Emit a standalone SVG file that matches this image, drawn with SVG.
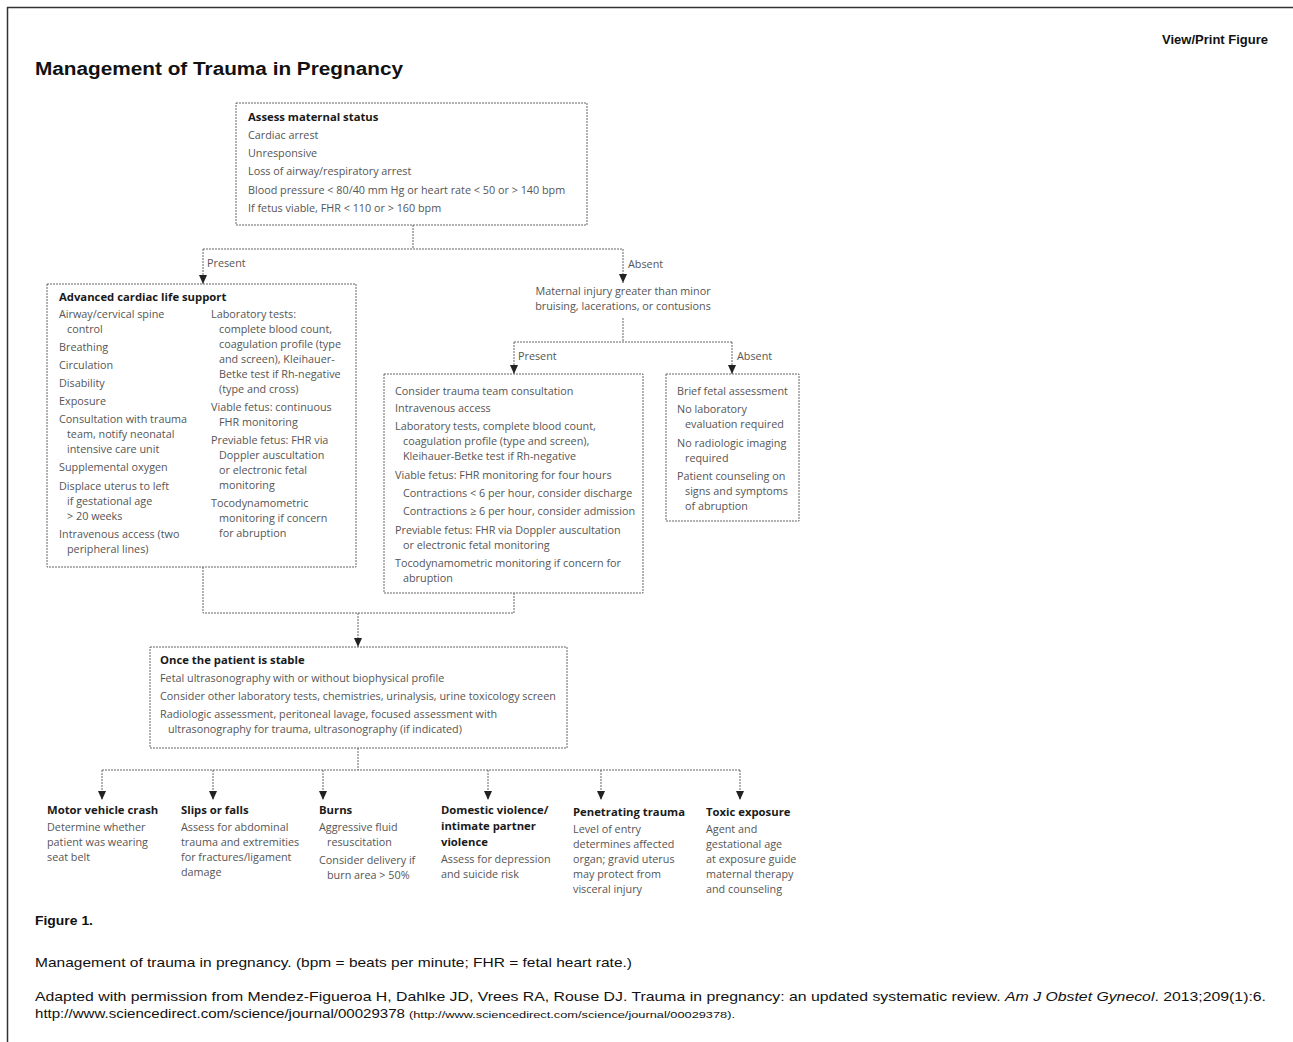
<svg xmlns="http://www.w3.org/2000/svg" width="1293" height="1042" viewBox="0 0 1293 1042">
<defs>
<marker id="ah" viewBox="0 0 9 8" refX="9" refY="4" markerWidth="9" markerHeight="8" markerUnits="userSpaceOnUse" orient="auto">
<path d="M0,0 L9,4 L0,8 Z" fill="#222"/>
</marker>
<style>
.box{fill:#fff;stroke:#666;stroke-width:1;stroke-dasharray:2 1}
.ln{fill:none;stroke:#666;stroke-width:1;stroke-dasharray:2 1}
.t{font-family:"Open Sans","Liberation Sans",sans-serif;font-size:10.8px;fill:#555}
.h{font-family:"Open Sans","Liberation Sans",sans-serif;font-size:11.3px;font-weight:bold;fill:#1a1a1a}
.c{font-family:"Liberation Sans",Arial,sans-serif;fill:#111}
</style>
</defs>
<rect width="1293" height="1042" fill="#fff"/>
<g id="frame">
<line x1="7" y1="7.5" x2="1293" y2="7.5" stroke="#333" stroke-width="1.5"/>
<line x1="7.5" y1="7" x2="7.5" y2="1042" stroke="#333" stroke-width="1.5"/>
</g>
<g id="header">
<text class="c" x="1268" y="44" font-size="13" font-weight="bold" text-anchor="end">View/Print Figure</text>
<text class="c" x="35" y="75" font-size="18" font-weight="bold" textLength="368" lengthAdjust="spacingAndGlyphs">Management of Trauma in Pregnancy</text>
</g>
<g id="connectors">
<line class="ln" x1="413" y1="225" x2="413" y2="249"/>
<line class="ln" x1="203" y1="249" x2="623" y2="249"/>
<line class="ln" x1="203" y1="249" x2="203" y2="284" marker-end="url(#ah)"/>
<line class="ln" x1="623" y1="249" x2="623" y2="283" marker-end="url(#ah)"/>
<line class="ln" x1="623" y1="318" x2="623" y2="342"/>
<line class="ln" x1="514" y1="342" x2="732" y2="342"/>
<line class="ln" x1="514" y1="342" x2="514" y2="374" marker-end="url(#ah)"/>
<line class="ln" x1="732" y1="342" x2="732" y2="374" marker-end="url(#ah)"/>
<polyline class="ln" points="203,567 203,613 514,613 514,593"/>
<line class="ln" x1="358" y1="613" x2="358" y2="647" marker-end="url(#ah)"/>
<line class="ln" x1="358" y1="748" x2="358" y2="770"/>
<line class="ln" x1="102" y1="770" x2="740" y2="770"/>
<line class="ln" x1="102" y1="770" x2="102" y2="800" marker-end="url(#ah)"/>
<line class="ln" x1="213" y1="770" x2="213" y2="800" marker-end="url(#ah)"/>
<line class="ln" x1="323" y1="770" x2="323" y2="800" marker-end="url(#ah)"/>
<line class="ln" x1="488" y1="770" x2="488" y2="800" marker-end="url(#ah)"/>
<line class="ln" x1="601" y1="770" x2="601" y2="800" marker-end="url(#ah)"/>
<line class="ln" x1="740" y1="770" x2="740" y2="800" marker-end="url(#ah)"/>
<text class="t" x="207" y="267">Present</text>
<text class="t" x="628" y="268">Absent</text>
<text class="t" x="518" y="360">Present</text>
<text class="t" x="737" y="360">Absent</text>
</g>
<g id="assess">
<rect class="box" x="236" y="103" width="351" height="122"/>
<text class="h" x="248" y="121">Assess maternal status</text>
<text class="t" x="248" y="139">Cardiac arrest</text>
<text class="t" x="248" y="157">Unresponsive</text>
<text class="t" x="248" y="175">Loss of airway/respiratory arrest</text>
<text class="t" x="248" y="194">Blood pressure &lt; 80/40 mm Hg or heart rate &lt; 50 or &gt; 140 bpm</text>
<text class="t" x="248" y="212">If fetus viable, FHR &lt; 110 or &gt; 160 bpm</text>
</g>
<g id="acls">
<rect class="box" x="47" y="284" width="309" height="283"/>
<text class="h" x="59" y="301">Advanced cardiac life support</text>
<text class="t" x="59" y="318">Airway/cervical spine</text>
<text class="t" x="67" y="333">control</text>
<text class="t" x="59" y="351">Breathing</text>
<text class="t" x="59" y="369">Circulation</text>
<text class="t" x="59" y="387">Disability</text>
<text class="t" x="59" y="405">Exposure</text>
<text class="t" x="59" y="423">Consultation with trauma</text>
<text class="t" x="67" y="438">team, notify neonatal</text>
<text class="t" x="67" y="453">intensive care unit</text>
<text class="t" x="59" y="471">Supplemental oxygen</text>
<text class="t" x="59" y="490">Displace uterus to left</text>
<text class="t" x="67" y="505">if gestational age</text>
<text class="t" x="67" y="520">&gt; 20 weeks</text>
<text class="t" x="59" y="538">Intravenous access (two</text>
<text class="t" x="67" y="553">peripheral lines)</text>
<text class="t" x="211" y="318">Laboratory tests:</text>
<text class="t" x="219" y="333">complete blood count,</text>
<text class="t" x="219" y="348">coagulation profile (type</text>
<text class="t" x="219" y="363">and screen), Kleihauer-</text>
<text class="t" x="219" y="378">Betke test if Rh-negative</text>
<text class="t" x="219" y="393">(type and cross)</text>
<text class="t" x="211" y="411">Viable fetus: continuous</text>
<text class="t" x="219" y="426">FHR monitoring</text>
<text class="t" x="211" y="444">Previable fetus: FHR via</text>
<text class="t" x="219" y="459">Doppler auscultation</text>
<text class="t" x="219" y="474">or electronic fetal</text>
<text class="t" x="219" y="489">monitoring</text>
<text class="t" x="211" y="507">Tocodynamometric</text>
<text class="t" x="219" y="522">monitoring if concern</text>
<text class="t" x="219" y="537">for abruption</text>
</g>
<g id="maternal-injury">
<text class="t" x="623" y="295" text-anchor="middle">Maternal injury greater than minor</text>
<text class="t" x="623" y="310" text-anchor="middle">bruising, lacerations, or contusions</text>
</g>
<g id="injury-present">
<rect class="box" x="384" y="374" width="259" height="219"/>
<text class="t" x="395" y="395">Consider trauma team consultation</text>
<text class="t" x="395" y="412">Intravenous access</text>
<text class="t" x="395" y="430">Laboratory tests, complete blood count,</text>
<text class="t" x="403" y="445">coagulation profile (type and screen),</text>
<text class="t" x="403" y="460">Kleihauer-Betke test if Rh-negative</text>
<text class="t" x="395" y="479">Viable fetus: FHR monitoring for four hours</text>
<text class="t" x="403" y="497">Contractions &lt; 6 per hour, consider discharge</text>
<text class="t" x="403" y="515">Contractions ≥ 6 per hour, consider admission</text>
<text class="t" x="395" y="534">Previable fetus: FHR via Doppler auscultation</text>
<text class="t" x="403" y="549">or electronic fetal monitoring</text>
<text class="t" x="395" y="567">Tocodynamometric monitoring if concern for</text>
<text class="t" x="403" y="582">abruption</text>
</g>
<g id="injury-absent">
<rect class="box" x="666" y="374" width="133" height="147"/>
<text class="t" x="677" y="395">Brief fetal assessment</text>
<text class="t" x="677" y="413">No laboratory</text>
<text class="t" x="685" y="428">evaluation required</text>
<text class="t" x="677" y="447">No radiologic imaging</text>
<text class="t" x="685" y="462">required</text>
<text class="t" x="677" y="480">Patient counseling on</text>
<text class="t" x="685" y="495">signs and symptoms</text>
<text class="t" x="685" y="510">of abruption</text>
</g>
<g id="stable">
<rect class="box" x="150" y="647" width="417" height="101"/>
<text class="h" x="160" y="664">Once the patient is stable</text>
<text class="t" x="160" y="682">Fetal ultrasonography with or without biophysical profile</text>
<text class="t" x="160" y="700">Consider other laboratory tests, chemistries, urinalysis, urine toxicology screen</text>
<text class="t" x="160" y="718">Radiologic assessment, peritoneal lavage, focused assessment with</text>
<text class="t" x="168" y="733">ultrasonography for trauma, ultrasonography (if indicated)</text>
</g>
<g id="motor-vehicle">
<text class="h" x="47" y="814">Motor vehicle crash</text>
<text class="t" x="47" y="831">Determine whether</text>
<text class="t" x="47" y="846">patient was wearing</text>
<text class="t" x="47" y="861">seat belt</text>
</g>
<g id="slips-falls">
<text class="h" x="181" y="814">Slips or falls</text>
<text class="t" x="181" y="831">Assess for abdominal</text>
<text class="t" x="181" y="846">trauma and extremities</text>
<text class="t" x="181" y="861">for fractures/ligament</text>
<text class="t" x="181" y="876">damage</text>
</g>
<g id="burns">
<text class="h" x="319" y="814">Burns</text>
<text class="t" x="319" y="831">Aggressive fluid</text>
<text class="t" x="327" y="846">resuscitation</text>
<text class="t" x="319" y="864">Consider delivery if</text>
<text class="t" x="327" y="879">burn area &gt; 50%</text>
</g>
<g id="domestic-violence">
<text class="h" x="441" y="814">Domestic violence/</text>
<text class="h" x="441" y="830">intimate partner</text>
<text class="h" x="441" y="846">violence</text>
<text class="t" x="441" y="863">Assess for depression</text>
<text class="t" x="441" y="878">and suicide risk</text>
</g>
<g id="penetrating">
<text class="h" x="573" y="816">Penetrating trauma</text>
<text class="t" x="573" y="833">Level of entry</text>
<text class="t" x="573" y="848">determines affected</text>
<text class="t" x="573" y="863">organ; gravid uterus</text>
<text class="t" x="573" y="878">may protect from</text>
<text class="t" x="573" y="893">visceral injury</text>
</g>
<g id="toxic">
<text class="h" x="706" y="816">Toxic exposure</text>
<text class="t" x="706" y="833">Agent and</text>
<text class="t" x="706" y="848">gestational age</text>
<text class="t" x="706" y="863">at exposure guide</text>
<text class="t" x="706" y="878">maternal therapy</text>
<text class="t" x="706" y="893">and counseling</text>
</g>
<g id="caption">
<text class="c" x="35" y="925" font-size="13" font-weight="bold" textLength="58" lengthAdjust="spacingAndGlyphs">Figure 1.</text>
<text class="c" x="35" y="967" font-size="13.5" textLength="597" lengthAdjust="spacingAndGlyphs">Management of trauma in pregnancy. (bpm = beats per minute; FHR = fetal heart rate.)</text>
<text class="c" x="35" y="1001" font-size="13.5" textLength="1231" lengthAdjust="spacingAndGlyphs">Adapted with permission from Mendez-Figueroa H, Dahlke JD, Vrees RA, Rouse DJ. Trauma in pregnancy: an updated systematic review. <tspan font-style="italic">Am J Obstet Gynecol</tspan>. 2013;209(1):6.</text>
<text class="c" x="35" y="1018" font-size="13.5" textLength="370" lengthAdjust="spacingAndGlyphs">http://www.sciencedirect.com/science/journal/00029378</text>
<text class="c" x="409" y="1018" font-size="9" textLength="326" lengthAdjust="spacingAndGlyphs">(http://www.sciencedirect.com/science/journal/00029378).</text>
</g>
</svg>
